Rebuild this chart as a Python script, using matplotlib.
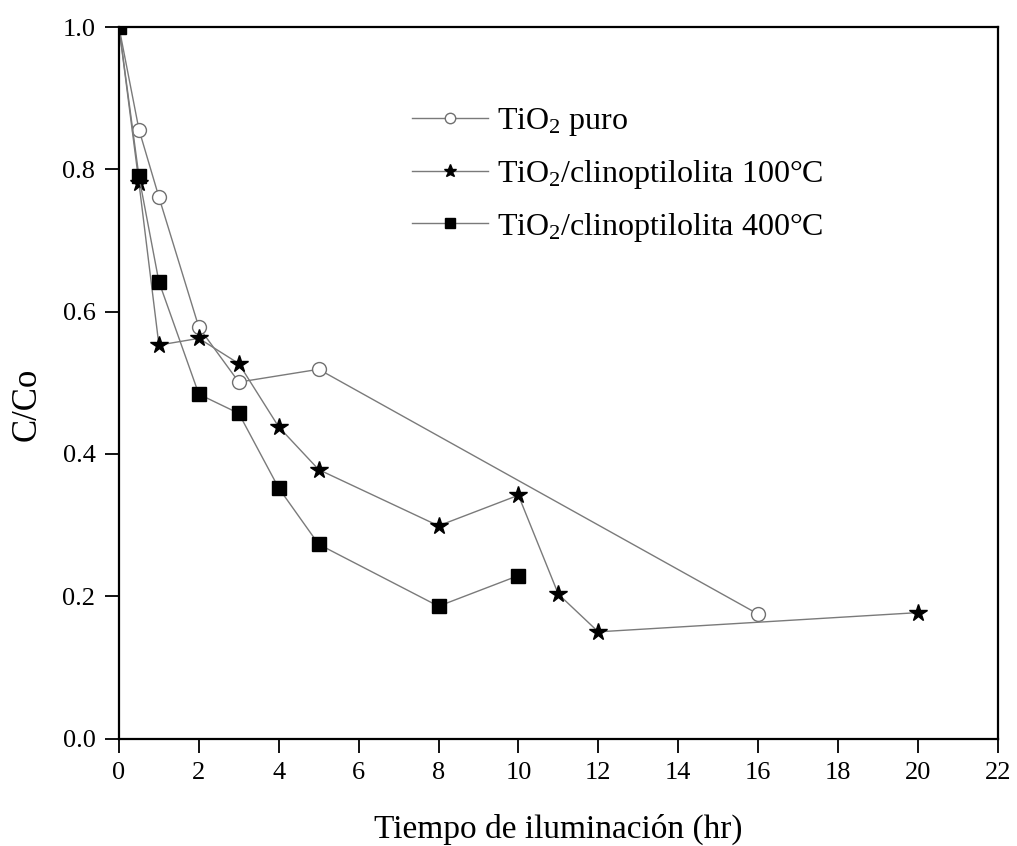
import matplotlib
matplotlib.use('Agg')
import matplotlib.pyplot as plt

plt.rcParams['font.family'] = ['Liberation Serif', 'DejaVu Serif']
plt.rcParams['mathtext.fontset'] = 'custom'
plt.rcParams['mathtext.rm'] = 'Liberation Serif'
plt.rcParams['mathtext.it'] = 'Liberation Serif:italic'

# data
t_puro = [0, 0.5, 1, 2, 3, 5, 16]
c_puro = [1.0, 0.856, 0.761, 0.578, 0.501, 0.519, 0.175]

t_100 = [0, 0.5, 1, 2, 3, 4, 5, 8, 10, 11, 12, 20]
c_100 = [1.0, 0.781, 0.553, 0.5625, 0.527, 0.438, 0.378, 0.299, 0.342, 0.203, 0.150, 0.177]

t_400 = [0, 0.5, 1, 2, 3, 4, 5, 8, 10]
c_400 = [1.0, 0.790, 0.642, 0.484, 0.457, 0.352, 0.273, 0.186, 0.229]

labels = ['TiO$_2$ puro',
          'TiO$_2$/clinoptilolita 100°C',
          'TiO$_2$/clinoptilolita 400°C']

xticks = list(range(0, 23, 2))
yticks = [0.0, 0.2, 0.4, 0.6, 0.8, 1.0]

fig = plt.figure(figsize=(10.17, 8.46), dpi=100)
ax = fig.add_axes([0.117, 0.127, 0.864, 0.841])

lc = '#7a7a7a'
ax.plot(t_puro, c_puro, color=lc, lw=1.0, marker='o', ms=10,
        mfc='white', mec='#707070', mew=1.0, label=labels[0])
ax.plot(t_100, c_100, color=lc, lw=1.0, marker='*', ms=13,
        mfc='black', mec='black', label=labels[1])
ax.plot(t_400, c_400, color=lc, lw=1.0, marker='s', ms=9.5,
        mfc='black', mec='black', label=labels[2])

ax.set_xlim(0, 22)
ax.set_ylim(0, 1.0)
ax.set_xticks(xticks)
ax.set_yticks(yticks)
ax.set_yticklabels(['%.1f' % v for v in yticks])
ax.tick_params(direction='out', length=10, width=1.3, labelsize=19,
               top=False, right=False, pad=7)
for s in ax.spines.values():
    s.set_linewidth(1.6)

ax.set_xlabel('Tiempo de iluminación (hr)', fontsize=24, labelpad=21)
ax.set_ylabel('C/Co', fontsize=25)
ax.yaxis.set_label_coords(-0.086, 0.47)

leg = ax.legend(loc='upper left', bbox_to_anchor=(0.334, 0.889), frameon=False,
                fontsize=23, handlelength=2.35, handletextpad=0.3,
                labelspacing=0.62, markerscale=0.75, borderpad=0,
                borderaxespad=0)

fig.savefig('out.png', dpi=100)
